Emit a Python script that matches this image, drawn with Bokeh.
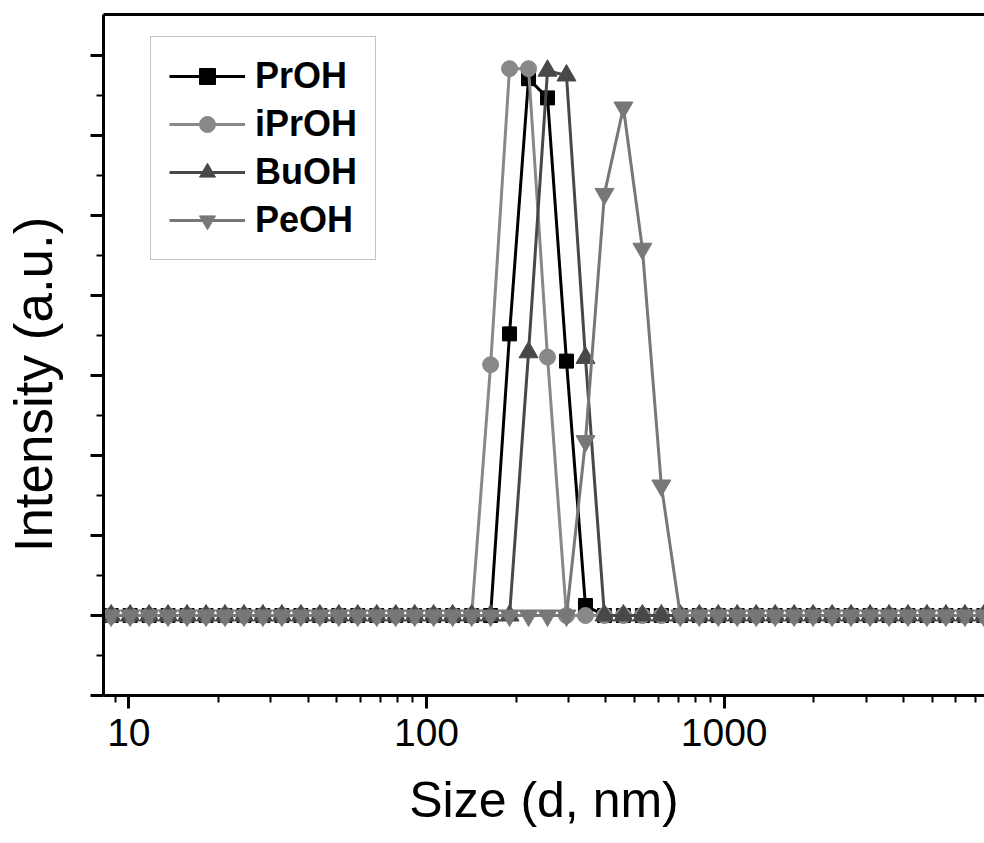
from bokeh.plotting import figure
from bokeh.models import FixedTicker, LogAxis, PrintfTickFormatter, CustomJSTickFormatter
from bokeh.embed import file_html
from bokeh.resources import INLINE

# DLS size bins (d, nm)
sizes = [7.531, 8.721, 10.10, 11.70, 13.54, 15.69, 18.17, 21.04, 24.36, 28.21,
         32.67, 37.84, 43.82, 50.75, 58.77, 68.06, 78.82, 91.28, 105.7, 122.4,
         141.8, 164.2, 190.1, 220.2, 255.0, 295.3, 342.0, 396.1, 458.7, 531.2,
         615.1, 712.4, 825.0, 955.4, 1106, 1281, 1484, 1718, 1990, 2305,
         2669, 3091, 3580, 4145, 4801, 5560, 6439, 7456, 8635]

proh = [0, 0, 0, 0, 0, 0, 0, 0, 0, 0,
        0, 0, 0, 0, 0, 0, 0, 0, 0, 0,
        0, 0, 70.4, 134.2, 129.4, 63.6, 2.5, 0, 0, 0,
        0, 0, 0, 0, 0, 0, 0, 0, 0, 0,
        0, 0, 0, 0, 0, 0, 0, 0, 0]
iproh = [0, 0, 0, 0, 0, 0, 0, 0, 0, 0,
         0, 0, 0, 0, 0, 0, 0, 0, 0, 0,
         0, 62.7, 136.7, 136.7, 64.6, 0, 0, 0, 0, 0,
         0, 0, 0, 0, 0, 0, 0, 0, 0, 0,
         0, 0, 0, 0, 0, 0, 0, 0, 0]
buoh = [0, 0, 0, 0, 0, 0, 0, 0, 0, 0,
        0, 0, 0, 0, 0, 0, 0, 0, 0, 0,
        0, 0, 0, 65.8, 136.2, 135.0, 64.4, 0, 0, 0,
        0, 0, 0, 0, 0, 0, 0, 0, 0, 0,
        0, 0, 0, 0, 0, 0, 0, 0, 0]
peoh = [0, 0, 0, 0, 0, 0, 0, 0, 0, 0,
        0, 0, 0, 0, 0, 0, 0, 0, 0, 0,
        0, 0, 0, 0, 0, 0, 43.6, 105.4, 127.0, 91.7,
        32.5, 0, 0, 0, 0, 0, 0, 0, 0, 0,
        0, 0, 0, 0, 0, 0, 0, 0, 0]

series_names = ["PrOH", "iPrOH", "BuOH", "PeOH"]
series_values = [proh, iproh, buoh, peoh]
series_colors = ["#000000", "#888888", "#484848", "#777777"]
series_markers = ["square", "circle", "triangle", "inverted_triangle"]
series_sizes = [14, 16, 19, 19]

x_major = [10, 100, 1000]
x_minor = [9, 20, 30, 40, 50, 60, 70, 80, 90, 200, 300, 400, 500, 600, 700, 800, 900,
           2000, 3000, 4000, 5000, 6000, 7000]
y_major = [-20, 0, 20, 40, 60, 80, 100, 120, 140]
y_minor = [-10, 10, 30, 50, 70, 90, 110, 130]

FONT = "Liberation Sans"

p = figure(width=984, height=843, x_axis_type="log",
           x_range=(8.22, 7492), y_range=(-20, 150.25),
           output_backend="svg", toolbar_location=None,
           min_border_left=99, min_border_right=0, min_border_top=14,
           min_border_bottom=148)
p.outline_line_color = None
p.xgrid.visible = False
p.ygrid.visible = False
p.background_fill_color = "white"
p.border_fill_color = "white"

for name, vals, col, mk, sz in zip(series_names, series_values, series_colors,
                                   series_markers, series_sizes):
    p.line(sizes, vals, line_color=col, line_width=3, legend_label=name)
    p.scatter(sizes, vals, marker=mk, size=sz, fill_color=col, line_color=col,
              legend_label=name)

# x axis
xa = p.xaxis[0]
xa.ticker = FixedTicker(ticks=x_major, minor_ticks=x_minor)
xa.formatter = PrintfTickFormatter(format="%d")
xa.axis_label = "Size (d, nm)"
xa.axis_label_text_font = FONT
xa.axis_label_text_font_size = "50px"
xa.axis_label_text_font_style = "normal"
xa.axis_label_text_color = "black"
xa.axis_label_standoff = 23
xa.major_label_text_font = FONT
xa.major_label_text_font_size = "39px"
xa.major_label_text_color = "black"
xa.major_label_standoff = 10
xa.axis_line_width = 3
xa.axis_line_color = "black"
xa.major_tick_line_width = 3
xa.major_tick_line_color = "black"
xa.major_tick_in = 0
xa.major_tick_out = 13
xa.minor_tick_line_width = 2
xa.minor_tick_line_color = "black"
xa.minor_tick_in = 0
xa.minor_tick_out = 7

# y axis
ya = p.yaxis[0]
ya.ticker = FixedTicker(ticks=y_major, minor_ticks=y_minor)
ya.formatter = CustomJSTickFormatter(code="return '';")
ya.axis_label = "Intensity (a.u.)\u00a0\u00a0\u00a0\u00a0"
ya.axis_label_text_font = FONT
ya.axis_label_text_font_size = "53px"
ya.axis_label_text_font_style = "normal"
ya.axis_label_text_color = "black"
ya.axis_label_standoff = 28
ya.major_label_standoff = 0
ya.axis_line_width = 3
ya.axis_line_color = "black"
ya.major_tick_line_width = 3
ya.major_tick_line_color = "black"
ya.major_tick_in = 0
ya.major_tick_out = 13
ya.minor_tick_line_width = 2
ya.minor_tick_line_color = "black"
ya.minor_tick_in = 0
ya.minor_tick_out = 7

# top border line
top = LogAxis(ticker=FixedTicker(ticks=[]), axis_line_width=3, axis_line_color="black",
              major_tick_in=0, major_tick_out=0, minor_tick_in=0, minor_tick_out=0,
              major_label_standoff=0)
p.add_layout(top, "above")

# legend
lg = p.legend[0]
lg.location = (47, 435)
lg.label_text_font = FONT
lg.label_text_font_size = "36px"
lg.label_text_font_style = "bold"
lg.label_text_color = "black"
lg.label_height = 40
lg.glyph_height = 40
lg.glyph_width = 76
lg.label_standoff = 10
lg.spacing = 6
lg.padding = 18
lg.margin = 0
lg.border_line_color = "#888888"
lg.border_line_width = 1
lg.background_fill_alpha = 1

open("out.html", "w").write(file_html(p, INLINE))
